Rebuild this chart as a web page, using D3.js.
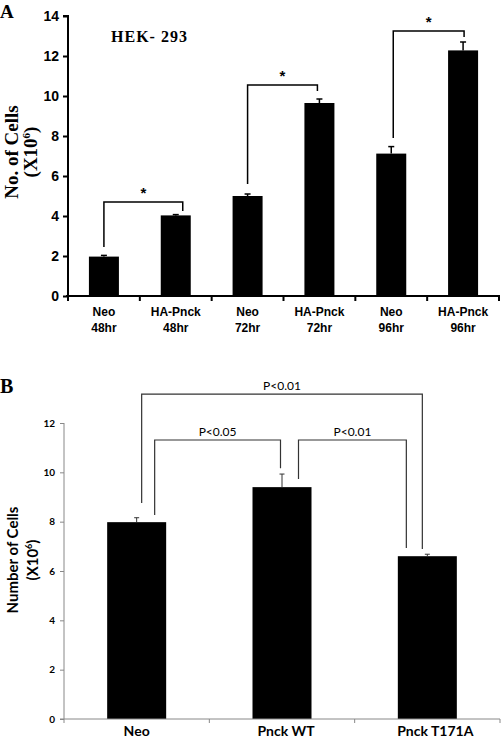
<!DOCTYPE html>
<html><head><meta charset="utf-8">
<script src="https://cdn.jsdelivr.net/npm/d3@7"></script>
<style>body{margin:0;background:#fff}svg{display:block}</style>
</head><body>
<script>
// ---- Panel A data ----
const catsA = ["Neo 48hr","HA-Pnck 48hr","Neo 72hr","HA-Pnck 72hr","Neo 96hr","HA-Pnck 96hr"];
const labelLine1A = ["Neo","HA-Pnck","Neo","HA-Pnck","Neo","HA-Pnck"];
const labelLine2A = ["48hr","48hr","72hr","72hr","96hr","96hr"];
const valuesA = [1.97, 4.03, 5.0, 9.65, 7.12, 12.28];
const errorsA = [0.06, 0.04, 0.1, 0.2, 0.35, 0.42];
const ticksA = [0,2,4,6,8,10,12,14];
// brackets: from/to category index, y bar level, leg end values
const bracketFromA = [0,2,4];
const bracketToA = [1,3,5];
const bracketYA = [4.7, 10.55, 13.25];
const bracketLeftEndA = [2.45, 5.6, 7.9];
const bracketRightEndA = [4.25, 10.25, 12.95];
const bracketLabelA = ["*","*","*"];

// ---- Panel B data ----
const catsB = ["Neo","Pnck WT","Pnck T171A"];
const valuesB = [7.98, 9.4, 6.6];
const errorsB = [0.18, 0.53, 0.08];
const ticksB = [0,2,4,6,8,10,12];
const bracketFromB = [0,0,1];
const bracketToB = [2,1,2];
const bracketYB = [13.17, 11.31, 11.31];
const bracketLeftEndB = [8.76, 8.27, 9.73];
const bracketRightEndB = [6.89, 10.17, 6.93];
const bracketLabelB = ["P<0.01","P<0.05","P<0.01"];

const W = 502, H = 740;
const svg = d3.select("body").append("svg").attr("width", W).attr("height", H);

// ================= Panel A =================
const xA = d3.scaleBand().domain(catsA).range([68, 499]).paddingInner(0).paddingOuter(0);
const yA = d3.scaleLinear().domain([0, 14]).range([296, 16]);
const barWA = 30;
const gA = svg.append("g");

gA.selectAll("rect.bar").data(valuesA).join("rect")
  .attr("x", (d,i) => xA(catsA[i]) + xA.bandwidth()/2 - barWA/2)
  .attr("y", d => yA(d))
  .attr("width", barWA)
  .attr("height", d => yA(0) - yA(d))
  .attr("fill", "#000");

// error bars
valuesA.forEach((v,i) => {
  const cx = xA(catsA[i]) + xA.bandwidth()/2;
  gA.append("line").attr("x1", cx).attr("x2", cx).attr("y1", yA(v)).attr("y2", yA(v+errorsA[i]))
    .attr("stroke", "#000").attr("stroke-width", 1.5);
  gA.append("line").attr("x1", cx-3).attr("x2", cx+3).attr("y1", yA(v+errorsA[i])).attr("y2", yA(v+errorsA[i]))
    .attr("stroke", "#000").attr("stroke-width", 1.5);
});

// y axis
const yAxisA = d3.axisLeft(yA).tickValues(ticksA).tickSize(5).tickPadding(4).tickFormat(d3.format("d"));
const gyA = gA.append("g").attr("transform", "translate(68,0)").call(yAxisA);
gyA.select(".domain").attr("stroke-width", 2).attr("d", `M-5,${yA(14)}H0V${yA(0)}`);
gyA.selectAll(".tick line").attr("stroke-width", 2);
gyA.selectAll(".tick text").attr("font-family", "Liberation Sans, Arial, sans-serif")
  .attr("font-weight", "bold").attr("font-size", 14).attr("fill", "#000");

// x axis
const gxA = gA.append("g").attr("transform", `translate(0,${yA(0)})`);
gxA.append("line").attr("x1", 66).attr("x2", 500).attr("y1", 0).attr("y2", 0)
  .attr("stroke", "#000").attr("stroke-width", 2);
const boundsA = catsA.map(c => xA(c)).concat([xA.range()[1]]);
gxA.selectAll("line.tk").data(boundsA).join("line").attr("class","tk")
  .attr("x1", d => d).attr("x2", d => d).attr("y1", 0).attr("y2", 5)
  .attr("stroke", "#000").attr("stroke-width", 2);
catsA.forEach((c,i) => {
  const cx = xA(c) + xA.bandwidth()/2;
  const t = gxA.append("text").attr("text-anchor", "middle")
    .attr("font-family", "Liberation Sans, Arial, sans-serif").attr("font-weight", "bold")
    .attr("font-size", 12).attr("fill", "#000");
  t.append("tspan").attr("x", cx).attr("y", 20).text(labelLine1A[i]);
  t.append("tspan").attr("x", cx).attr("y", 36).text(labelLine2A[i]);
});

// brackets A
const legDxA = [[0,7],[0,-2],[2,1]];
bracketFromA.forEach((f,i) => {
  const x1 = xA(catsA[f]) + xA.bandwidth()/2 + legDxA[i][0];
  const x2 = xA(catsA[bracketToA[i]]) + xA.bandwidth()/2 + legDxA[i][1];
  const yb = yA(bracketYA[i]);
  gA.append("path")
    .attr("d", `M${x1},${yA(bracketLeftEndA[i])}V${yb}H${x2}V${yA(bracketRightEndA[i])}`)
    .attr("fill", "none").attr("stroke", "#000").attr("stroke-width", 1.5);
  gA.append("text").attr("x", (x1+x2)/2).attr("y", yb - 4).attr("text-anchor", "middle")
    .attr("font-family", "Liberation Sans, Arial, sans-serif").attr("font-weight", "bold")
    .attr("font-size", 15).text(bracketLabelA[i]);
});

// titles A
svg.append("text").attr("x", 0).attr("y", 18).attr("font-family", "Liberation Serif, Times New Roman, serif")
  .attr("font-weight", "bold").attr("font-size", 19).text("A");
svg.append("text").attr("x", 111).attr("y", 42).attr("font-family", "Liberation Serif, Times New Roman, serif")
  .attr("font-weight", "bold").attr("font-size", 16).attr("textLength", 76).text("HEK- 293");
const ylA = svg.append("text").attr("transform", "translate(0,152) rotate(-90)")
  .attr("text-anchor", "middle").attr("font-family", "Liberation Serif, Times New Roman, serif")
  .attr("font-weight", "bold").attr("font-size", 19);
ylA.append("tspan").attr("x", 0).attr("y", 18).text("No. of Cells");
const l2A = ylA.append("tspan").attr("x", 0).attr("y", 37);
l2A.append("tspan").text("(X10");
l2A.append("tspan").attr("font-size", 11).attr("dy", -7).text("6");
l2A.append("tspan").attr("dy", 7).text(")");

// ================= Panel B =================
const xB = d3.scaleBand().domain(catsB).range([64, 500]).paddingInner(0).paddingOuter(0);
const yB = d3.scaleLinear().domain([0, 12]).range([719, 423]);
const barWB = 59;
const gB = svg.append("g");

gB.selectAll("rect.bar").data(valuesB).join("rect")
  .attr("x", (d,i) => xB(catsB[i]) + xB.bandwidth()/2 - barWB/2)
  .attr("y", d => yB(d))
  .attr("width", barWB)
  .attr("height", d => yB(0) - yB(d))
  .attr("fill", "#000");

valuesB.forEach((v,i) => {
  const cx = xB(catsB[i]) + xB.bandwidth()/2;
  gB.append("line").attr("x1", cx).attr("x2", cx).attr("y1", yB(v)).attr("y2", yB(v+errorsB[i]))
    .attr("stroke", "#333").attr("stroke-width", 1);
  gB.append("line").attr("x1", cx-2.5).attr("x2", cx+2.5).attr("y1", yB(v+errorsB[i])).attr("y2", yB(v+errorsB[i]))
    .attr("stroke", "#333").attr("stroke-width", 1);
});

const yAxisB = d3.axisLeft(yB).tickValues(ticksB).tickSize(4).tickPadding(5).tickFormat(d3.format("d"));
const gyB = gB.append("g").attr("transform", "translate(64,0)").call(yAxisB);
gyB.select(".domain").attr("stroke", "#888").attr("d", `M0,${yB(12)}V${yB(0)}`);
gyB.selectAll(".tick line").attr("stroke", "#888");
gyB.selectAll(".tick text").attr("font-family", "Lato, Open Sans, sans-serif")
  .attr("font-weight", "bold").attr("font-size", 10).attr("fill", "#000");

const gxB = gB.append("g").attr("transform", `translate(0,${yB(0)})`);
gxB.append("line").attr("x1", 60).attr("x2", 500).attr("y1", 0).attr("y2", 0).attr("stroke", "#888");
const boundsB = catsB.map(c => xB(c)).concat([xB.range()[1]]);
gxB.selectAll("line.tk").data(boundsB).join("line").attr("class","tk")
  .attr("x1", d => d).attr("x2", d => d).attr("y1", 0).attr("y2", 4).attr("stroke", "#888");
catsB.forEach((c,i) => {
  gxB.append("text").attr("x", xB(c) + xB.bandwidth()/2 + [0,4,8][i]).attr("y", 17).attr("text-anchor", "middle")
    .attr("font-family", "Lato, Open Sans, sans-serif").attr("font-weight", "bold")
    .attr("font-size", 14).attr("fill", "#000").text(c);
});

const legDxB = [[5,-5],[18,-1.5],[16.5,-21]];
bracketFromB.forEach((f,i) => {
  const x1 = xB(catsB[f]) + xB.bandwidth()/2 + legDxB[i][0];
  const x2 = xB(catsB[bracketToB[i]]) + xB.bandwidth()/2 + legDxB[i][1];
  const yb = yB(bracketYB[i]);
  gB.append("path")
    .attr("d", `M${x1},${yB(bracketLeftEndB[i])}V${yb}H${x2}V${yB(bracketRightEndB[i])}`)
    .attr("fill", "none").attr("stroke", "#333").attr("stroke-width", 1.2);
  gB.append("text").attr("x", (x1+x2)/2).attr("y", yb - 4).attr("text-anchor", "middle")
    .attr("font-family", "Lato, Open Sans, sans-serif")
    .attr("font-size", 12).attr("fill", "#000").text(bracketLabelB[i]);
});

svg.append("text").attr("x", 0).attr("y", 393).attr("font-family", "Liberation Serif, Times New Roman, serif")
  .attr("font-weight", "bold").attr("font-size", 20).text("B");
const ylB = svg.append("text").attr("transform", "translate(0,560) rotate(-90)")
  .attr("text-anchor", "middle").attr("font-family", "Lato, Open Sans, sans-serif")
  .attr("font-weight", "bold").attr("font-size", 15);
ylB.append("tspan").attr("x", 0).attr("y", 18).text("Number of Cells");
const l2B = ylB.append("tspan").attr("x", 0).attr("y", 38);
l2B.append("tspan").text("(X10");
l2B.append("tspan").attr("font-size", 9).attr("dy", -6).text("6");
l2B.append("tspan").attr("dy", 6).text(")");
</script>
</body></html>
